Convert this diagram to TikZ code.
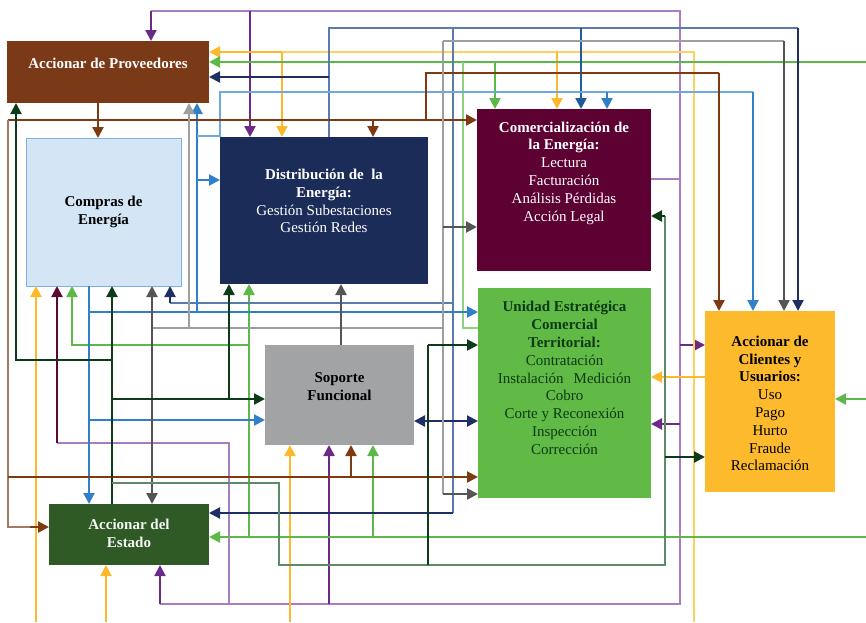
\documentclass[tikz,border=0pt]{standalone}
\usepackage{fontspec}
\setmainfont{Liberation Serif}
\usetikzlibrary{arrows.meta}
\definecolor{bxP}{HTML}{7A3A17}
\definecolor{bxC}{HTML}{D4E6F5}
\definecolor{bxCb}{HTML}{7FB2E0}
\definecolor{bxD}{HTML}{1C2C58}
\definecolor{bxM}{HTML}{5D0032}
\definecolor{bxU}{HTML}{62BA46}
\definecolor{bxS}{HTML}{A1A3A4}
\definecolor{bxK}{HTML}{FDBA2C}
\definecolor{bxE}{HTML}{2F5A26}
\definecolor{cP}{HTML}{6B2A86}
\definecolor{cPl}{HTML}{A97CC4}
\definecolor{cMr}{HTML}{5C0A33}
\definecolor{cA}{HTML}{FDB92B}
\definecolor{cAl}{HTML}{FFD25E}
\definecolor{cG}{HTML}{5CB847}
\definecolor{cGl}{HTML}{8ED17E}
\definecolor{cN}{HTML}{1F2F66}
\definecolor{cS}{HTML}{5A7BAE}
\definecolor{cSd}{HTML}{1F5C99}
\definecolor{cB}{HTML}{2F80C8}
\definecolor{cBl}{HTML}{6FA8DC}
\definecolor{cBr}{HTML}{7F3A12}
\definecolor{cBrl}{HTML}{A47A62}
\definecolor{cGrD}{HTML}{555555}
\definecolor{cGrL}{HTML}{9E9E9E}
\definecolor{cDg}{HTML}{0E3B17}
\definecolor{cDgl}{HTML}{5E8A66}
\definecolor{txU}{HTML}{0B3A14}
\begin{document}
\begin{tikzpicture}[x=1pt,y=-1pt,
  box/.style={inner sep=0pt,outer sep=0pt,draw=none},
  tx/.style={align=center,inner sep=0pt,font=\fontsize{15}{17.8}\selectfont},
  tk/.style={line width=2.2pt},
  tn/.style={line width=1.3pt},
  ar/.style={-{Triangle[length=11pt,width=11pt]}},
  dar/.style={{Triangle[length=11pt,width=11pt]}-{Triangle[length=11pt,width=11pt]}}]
\useasboundingbox (0,0) rectangle (866,622);
% boxes
\node[box,fill=bxP,minimum width=202pt,minimum height=62pt] (P) at (108,72) {};
\node[box,fill=bxC,draw=bxCb,line width=1pt,minimum width=155pt,minimum height=148pt] (C) at (103.5,212) {};
\node[box,fill=bxD,minimum width=208pt,minimum height=147pt] (D) at (324,210.5) {};
\node[box,fill=bxM,minimum width=174pt,minimum height=162pt] (M) at (564,190) {};
\node[box,fill=bxU,minimum width=173pt,minimum height=210pt] (U) at (564.5,393) {};
\node[box,fill=bxS,minimum width=149pt,minimum height=100pt] (S) at (339.5,395) {};
\node[box,fill=bxK,minimum width=130pt,minimum height=181pt] (K) at (770,401.5) {};
\node[box,fill=bxE,minimum width=160pt,minimum height=61pt] (E) at (129,534.5) {};
% texts
\node[tx,text=white] (Pt) at ([yshift=9pt]P.center) {\textbf{Accionar de Proveedores}};
\node[tx,text=black] (Ct) at (C.center) {\textbf{Compras de}\\\textbf{Energía}};
\node[tx,text=white] (Dt) at ([yshift=9.5pt]D.center) {\textbf{Distribución de\ \ la}\\\textbf{Energía:}\\Gestión Subestaciones\\Gestión Redes};
\node[tx,text=white] (Mt) at ([yshift=17pt]M.center) {\textbf{Comercialización de}\\\textbf{la Energía:}\\Lectura\\Facturación\\Análisis Pérdidas\\Acción Legal};
\node[tx,text=txU] (Ut) at ([yshift=15pt]U.center) {\textbf{Unidad Estratégica}\\\textbf{Comercial}\\\textbf{Territorial:}\\Contratación\\Instalación\hspace{10pt}Medición\\Cobro\\Corte y Reconexión\\Inspección\\Corrección};
\node[tx,text=black] (St) at ([yshift=8.5pt]S.center) {\textbf{Soporte}\\\textbf{Funcional}};
\node[tx,text=black] (Kt) at ([yshift=-2pt]K.center) {\textbf{Accionar de}\\\textbf{Clientes y}\\\textbf{Usuarios:}\\Uso\\Pago\\Hurto\\Fraude\\Reclamación};
\node[tx,text=white!92!gray] (Et) at ([yshift=1.5pt]E.center) {\textbf{Accionar del}\\\textbf{Estado}};
% purple
\draw[tn,cPl] (151,11) -- (680,11) -- (680,604) -- (160,604);
\draw[tn,cPl] (M.east |- 0,179) -- (680,179);
\draw[tk,cP,ar] (151,11) -- (151,0 |- P.north);
\draw[tk,cP,ar] (250,11) -- (250,0 |- D.north);
\draw[tk,cP,ar] (680,345) -- (K.west |- 0,345);
\draw[tk,cP,ar] (680,424) -- (U.east |- 0,424);
\draw[tk,cP,ar] (329,604) -- (329,0 |- S.south);
\draw[tk,cP,ar] (160,604) -- (160,0 |- E.south);
\draw[tn,cPl] (229,604) -- (229,443) -- (57,443);
\draw[tk,cMr,ar] (57,443) -- (57,0 |- C.south);
% amber
\draw[tn,cAl] (282,52) -- (694,52) -- (694,622);
\draw[tk,cA,ar] (282,52) -- (P.east |- 0,52);
\draw[tk,cA,ar] (282,52) -- (282,0 |- D.north);
\draw[tk,cA,ar] (557,52) -- (557,0 |- M.north);
\draw[tk,cA,ar] (K.west |- 0,377) -- (U.east |- 0,377);
\draw[tk,cA,ar] (36,622) -- (36,0 |- C.south);
\draw[tk,cA,ar] (106,622) -- (106,0 |- E.south);
\draw[tk,cA,ar] (290,622) -- (290,0 |- S.south);
% green
\draw[tk,cG,ar] (866,62) -- (P.east |- 0,62);
\draw[tk,cG,ar] (495,62) -- (495,0 |- M.north);
\draw[tn,cGl] (463,62) -- (463,328) -- (U.west |- 0,328);
\draw[tk,cG,ar] (866,399) -- (K.east |- 0,399);
\draw[tk,cG,ar] (866,537) -- (E.east |- 0,537);
\draw[tk,cG,ar] (249,537) -- (249,0 |- D.south);
\draw[tk,cG,ar] (373,537) -- (373,0 |- S.south);
\draw[tk,cG,ar] (249,345) -- (72,345) -- (72,0 |- C.south);
% navy / steel
\draw[tn,cS] (329,0 |- D.north) -- (329,28) -- (798,28);
\draw[tk,cN,ar] (798,28) -- (798,0 |- K.north);
\draw[tk,cN,ar] (329,77) -- (P.east |- 0,77);
\draw[tk,cSd,ar] (581,28) -- (581,0 |- M.north);
\draw[tn,cS] (453,28) -- (453,513);
\draw[tk,cN,ar] (453,513) -- (E.east |- 0,513);
\draw[tn,cS] (453,303) -- (170,303);
\draw[tk,cN,ar] (170,303) -- (170,0 |- C.south);
\draw[tk,cN,dar] (S.east |- 0,421) -- (U.west |- 0,421);
% blue
\draw[tk,cB,ar] (197,312) -- (197,0 |- P.south);
\draw[tk,cB,ar] (197,180) -- (D.west |- 0,180);
\draw[tn,cBl] (197,136) -- (220,136) -- (220,92) -- (753,92);
\draw[tk,cB,ar] (753,92) -- (753,0 |- K.north);
\draw[tk,cB,ar] (607,92) -- (607,0 |- M.north);
\draw[tk,cB,ar] (89,312) -- (U.west |- 0,312);
\draw[tk,cB,ar] (89,0 |- C.south) -- (89,0 |- E.north);
\draw[tk,cB,ar] (89,420) -- (S.west |- 0,420);
% brown
\draw[tk,cBr,ar] (98,0 |- P.south) -- (98,0 |- C.north);
\draw[tk,cBr,ar] (8,120) -- (M.west |- 0,120);
\draw[tk,cBr,ar] (373,120) -- (373,0 |- D.north);
\draw[tk,cBr] (426,120) -- (426,73) -- (719,73);
\draw[tk,cBr,ar] (719,73) -- (719,0 |- K.north);
\draw[tn,cBrl] (8,120) -- (8,527) -- (30,527);
\draw[tk,cBr,ar] (30,527) -- (E.west |- 0,527);
\draw[tk,cBr,ar] (8,477) -- (U.west |- 0,477);
\draw[tk,cBr,ar] (351,477) -- (351,0 |- S.south);
% gray
\draw[tk,cGrL,ar] (189,328) -- (189,0 |- P.south);
\draw[tn,cGrL] (152,328) -- (443,328);
\draw[tk,cGrD,ar] (152,328) -- (152,0 |- C.south);
\draw[tk,cGrD,ar] (152,328) -- (152,0 |- E.north);
\draw[tn,cGrL] (443,41) -- (443,494);
\draw[tk,cGrD,ar] (443,494) -- (U.west |- 0,494);
\draw[tn,cGrL] (443,41) -- (784,41);
\draw[tk,cGrD,ar] (784,41) -- (784,0 |- K.north);
\draw[tk,cGrD,ar] (443,227) -- (M.west |- 0,227);
\draw[tk,cGrD,ar] (341,0 |- S.north) -- (341,0 |- D.south);
% dark green
\draw[tk,cDg,ar] (112,0 |- E.north) -- (112,0 |- C.south);
\draw[tk,cDg,ar] (112,360) -- (16,360) -- (16,0 |- P.south);
\draw[tk,cDg,ar] (112,399) -- (S.west |- 0,399);
\draw[tk,cDg,ar] (229,399) -- (229,0 |- D.south);
\draw[tn,cDgl] (112,483) -- (279,483) -- (279,565) -- (665,565) -- (665,216);
\draw[tk,cDg,ar] (665,216) -- (M.east |- 0,216);
\draw[tk,cDg,ar] (665,457) -- (K.west |- 0,457);
\draw[tn,cDg] (428,565) -- (428,345);
\draw[tk,cDg,ar] (428,345) -- (U.west |- 0,345);
\end{tikzpicture}
\end{document}
